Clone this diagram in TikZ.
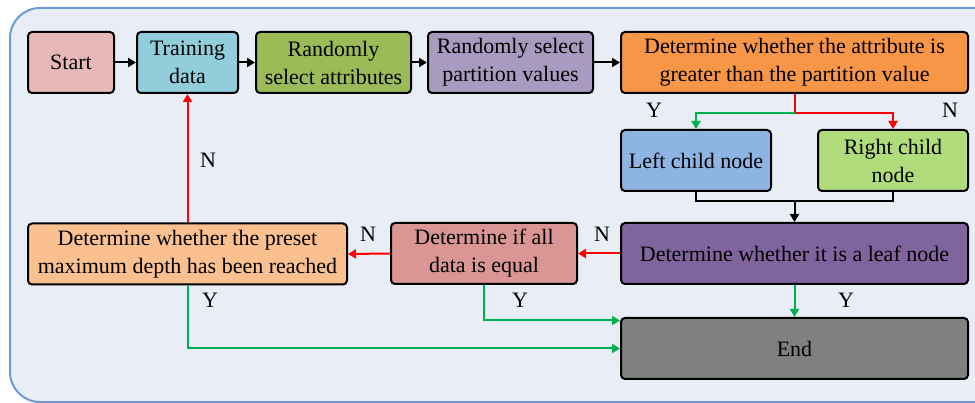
\documentclass[tikz,border=0pt]{standalone}
\usepackage{fontspec}
\setmainfont{Liberation Serif}
\usetikzlibrary{arrows.meta}
\definecolor{bgfill}{HTML}{E9EDF5}
\definecolor{bgline}{HTML}{6C9AD6}
\definecolor{cstart}{HTML}{E6B9B8}
\definecolor{ctrain}{HTML}{92CDDC}
\definecolor{cattr}{HTML}{9BBB59}
\definecolor{cpart}{HTML}{A99BBF}
\definecolor{cdet}{HTML}{F79646}
\definecolor{cleft}{HTML}{8EB4E3}
\definecolor{cright}{HTML}{B0DC7C}
\definecolor{cleaf}{HTML}{7F649E}
\definecolor{cend}{HTML}{808080}
\definecolor{cequal}{HTML}{D99694}
\definecolor{cpreset}{HTML}{FAC090}
\definecolor{cgreen}{HTML}{00B050}
\definecolor{cred}{HTML}{FF0000}
\tikzset{
  box/.style={draw=black, line width=2pt, rounded corners=4pt, align=center,
    minimum height=61pt, inner sep=0pt, font=\fontsize{22}{28}\selectfont},
  lbl/.style={font=\fontsize{22}{28}\selectfont, inner sep=0pt},
  conn/.style={line width=2pt, -{Triangle[length=8pt,width=9pt]}},
  plain/.style={line width=2pt},
}
\begin{document}
\begin{tikzpicture}[x=1pt,y=-1pt]
\useasboundingbox (0,0) rectangle (975,403);
\clip (0,0) rectangle (975,403);
\draw[fill=bgfill, draw=bgline, line width=2pt, rounded corners=30pt] (10,8) rectangle (1005,402);
% nodes
\node[box, fill=cstart, minimum width=86pt] (start) at (71,62.5) {Start};
\node[box, fill=ctrain, minimum width=101pt] (train) at (187.5,62.5) {Training\\data};
\node[box, fill=cattr, minimum width=155pt] (attr) at (333.5,62.5) {Randomly\\select attributes};
\node[box, fill=cpart, minimum width=165pt] (part) at (510.5,62.5) {Randomly select\\partition values};
\node[box, fill=cdet, minimum width=347pt] (det) at (794.5,62.5) {Determine whether the attribute is\\greater than the partition value};
\node[box, fill=cleft, minimum width=150pt] (lchild) at (696,160.5) {Left child node};
\node[box, fill=cright, minimum width=150pt] (rchild) at (893,160.5) {Right child\\node};
\node[box, fill=cleaf, minimum width=347pt] (leaf) at (794.5,253.5) {Determine whether it is a leaf node};
\node[box, fill=cend, minimum width=347pt] (end) at (794.5,348.5) {End};
\node[box, fill=cequal, minimum width=186pt] (equal) at (484,253.5) {Determine if all\\data is equal};
\node[box, fill=cpreset, minimum width=319pt] (preset) at (187.5,254) {Determine whether the preset\\maximum depth has been reached};
% top row
\draw[conn] (start) -- (train);
\draw[conn] (train) -- (attr);
\draw[conn] (attr) -- (part);
\draw[conn] (part) -- (det);
% split
\coordinate (split) at (794.5,113);
\draw[plain, cred] (det.south) -- (split);
\draw[conn, cgreen] (split) -| (lchild.north);
\draw[conn, cred] (split) -| (rchild.north);
% merge
\coordinate (merge) at (794.5,201);
\draw[plain] (lchild.south) |- (merge) -| (rchild.south);
\draw[conn] (merge) -- (leaf.north);
% lower
\draw[conn, cred] (leaf.west) -- (equal.east);
\draw[conn, cred] (equal.west) -- (preset.east);
\draw[conn, cred] (preset.north) -- (train.south);
\draw[conn, cgreen] (leaf.south) -- (end.north);
\draw[conn, cgreen] (equal.south) |- ([yshift=28pt]end.west);
\draw[conn, cgreen] (preset.south) |- (end.west);
% labels
\node[lbl] (ly1) at (654,110) {Y};
\node[lbl] (ln1) at (950,110) {N};
\node[lbl] (ln2) at (602,234) {N};
\node[lbl] (ln3) at (368,234) {N};
\node[lbl] (ln4) at (208,160) {N};
\node[lbl] (ly2) at (210,300) {Y};
\node[lbl] (ly3) at (520,300) {Y};
\node[lbl] (ly4) at (846,300) {Y};
\end{tikzpicture}
\end{document}
